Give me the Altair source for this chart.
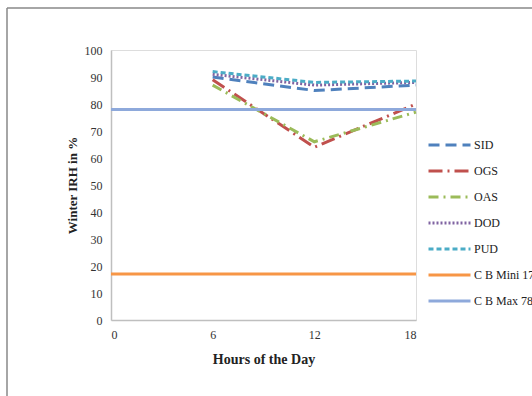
import altair as alt
import pandas as pd

hours = [6, 12, 18]
sid = [90, 85, 87]
ogs = [89, 64, 80]
oas = [87, 66, 77]
dod = [91, 87, 88]
pud = [92, 88, 88.5]
cb_hours = [0, 18]
cb_min = [17, 17]
cb_max = [78, 78]

series_names = ["SID", "OGS", "OAS", "DOD", "PUD", "C B Mini 17", "C B Max 78"]
colors = ["#4F81BD", "#C0504D", "#9BBB59", "#8064A2", "#4BACC6", "#F79646", "#8EA9DB"]
dashes = [[11, 6], [14, 5, 2, 5], [10, 5, 2, 5], [2, 2], [5, 3], [1, 0], [1, 0]]

rows = []
for name, vals in zip(series_names[:5], [sid, ogs, oas, dod, pud]):
    for h, v in zip(hours, vals):
        rows.append({"series": name, "hour": h, "value": v})
for name, vals in zip(series_names[5:], [cb_min, cb_max]):
    for h, v in zip(cb_hours, vals):
        rows.append({"series": name, "hour": h, "value": v})
df = pd.DataFrame(rows)

font = "Liberation Serif"

leg = dict(title=None, orient="none", legendX=316, legendY=87,
           symbolType="stroke", symbolSize=1764, symbolStrokeWidth=3,
           clipHeight=16, rowPadding=10)

lines = alt.Chart(df).mark_line(strokeWidth=3, strokeCap="butt").encode(
    x=alt.X("hour:Q", scale=alt.Scale(domain=[0, 18], nice=False),
            axis=alt.Axis(values=[0, 6, 12, 18], title="Hours of the Day")),
    y=alt.Y("value:Q", scale=alt.Scale(domain=[0, 100], nice=False),
            axis=alt.Axis(values=list(range(0, 101, 10)), title="Winter IRH in %")),
    color=alt.Color("series:N", scale=alt.Scale(domain=series_names, range=colors),
                    legend=alt.Legend(**leg)),
    strokeDash=alt.StrokeDash("series:N", scale=alt.Scale(domain=series_names, range=dashes),
                              legend=alt.Legend(**leg)),
    detail="series:N",
)

frame_left = alt.Chart(pd.DataFrame({"k": [0]})).mark_rule(color="#888", strokeWidth=1.5).encode(
    x=alt.value(-104), y=alt.value(-42), y2=alt.value(346))
frame_top = alt.Chart(pd.DataFrame({"k": [0]})).mark_rule(color="#888", strokeWidth=1.5).encode(
    x=alt.value(-104), x2=alt.value(421), y=alt.value(-42))

chart = alt.layer(lines, frame_left, frame_top).properties(
    width=305, height=270,
    autosize=alt.AutoSizeParams(type="none"),
    padding={"left": 111, "top": 50, "right": 116, "bottom": 76},
).configure_view(stroke=None).configure(background="white", font=font).configure_axis(
    grid=False, ticks=False, domainColor="#bfbfbf", domainWidth=1.5,
    labelFont=font, labelFontSize=12, labelColor="#333", labelPadding=9,
    titleFont=font, titleFontSize=14, titleFontWeight="bold", titleColor="#222",
).configure_axisY(titleFontSize=13, titlePadding=5).configure_axisX(titlePadding=12).configure_legend(
    labelFont=font, labelFontSize=12, labelColor="#222", labelLimit=200, labelOffset=2,
)

chart.save("out.html", embed_options={"renderer": "svg", "actions": False})
